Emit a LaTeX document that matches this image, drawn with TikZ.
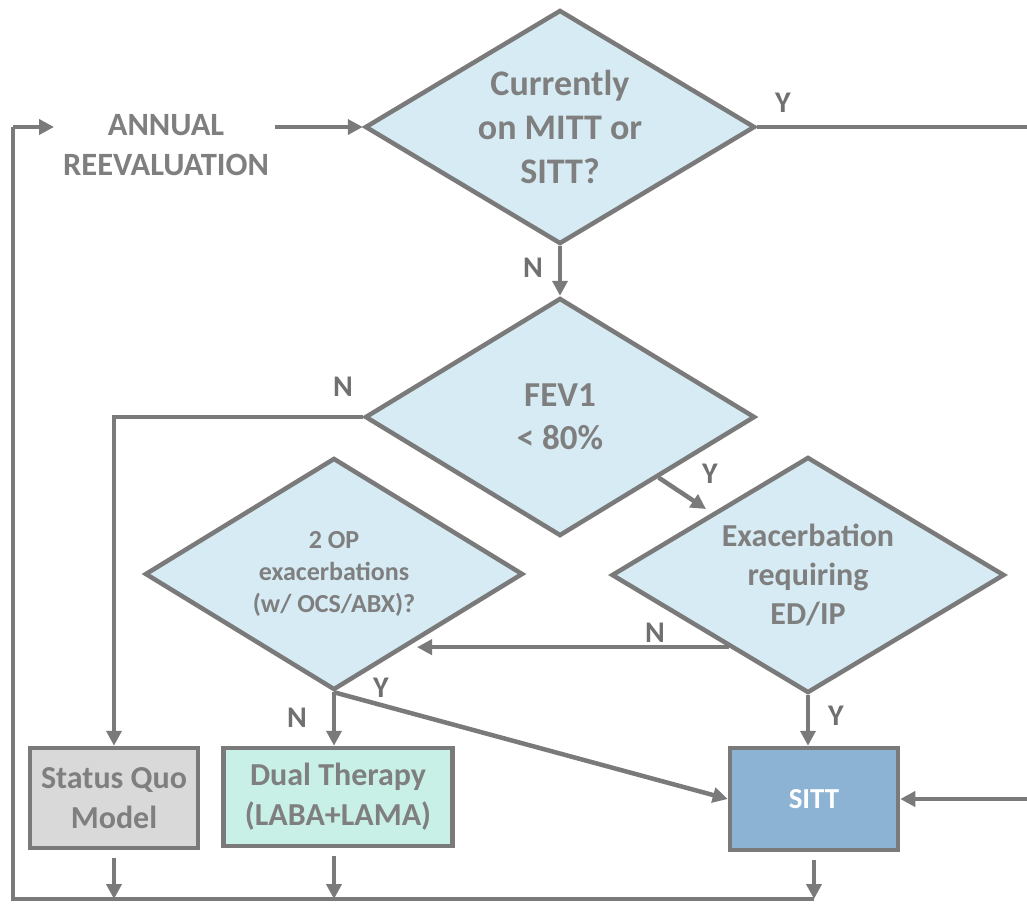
\documentclass[tikz,border=0pt]{standalone}
\usepackage{fontspec}
\setmainfont{Carlito}
\usetikzlibrary{shapes.geometric,arrows.meta,calc}
\definecolor{lg}{HTML}{7A7A7A}
\definecolor{tgray}{HTML}{7F7F7F}
\definecolor{labgray}{HTML}{707070}
\definecolor{dfill}{HTML}{D6EBF3}
\definecolor{sqfill}{HTML}{D9D9D9}
\definecolor{dualfill}{HTML}{C9F0E6}
\definecolor{sittfill}{HTML}{8CB3D4}
\begin{document}
\begin{tikzpicture}[x=1pt,y=-1pt,
  conn/.style={draw=lg, line width=4.5pt},
  arr/.style={conn, -{Triangle[length=15pt,width=15pt]}},
  dec/.style={diamond, draw=lg, line width=4.5pt, fill=dfill, inner sep=0pt,
    text=tgray, align=center},
  box/.style={rectangle, draw=lg, line width=4.5pt, inner sep=0pt, align=center,
    text=tgray, font=\fontsize{32}{40}\selectfont\bfseries},
  lab/.style={text=labgray, font=\fontsize{30}{34}\selectfont\bfseries, inner sep=0pt}]
\clip (0,0) rectangle (1027,903);
\fill[white] (0,0) rectangle (1027,903);

% nodes
\node[text=tgray, align=center, inner sep=6pt, font=\fontsize{32.5}{40}\selectfont\bfseries]
  (annual) at (166,145) {ANNUAL\\REEVALUATION};
\node[dec, aspect=1.67, minimum width=390pt, minimum height=234pt,
  font=\fontsize{36}{44}\selectfont\bfseries] (d1) at (560,127)
  {Currently\\on MITT or\\SITT?};
\node[dec, aspect=1.64, minimum width=390pt, minimum height=238pt,
  font=\fontsize{35}{43}\selectfont\bfseries] (d2) at (560,417)
  {FEV1\\< 80\%};
\node[dec, aspect=1.63, minimum width=378pt, minimum height=232pt,
  font=\fontsize{26}{32}\selectfont\bfseries] (d3) at (334,574)
  {2 OP\\exacerbations\\(w/ OCS/ABX)?};
\node[dec, aspect=1.665, minimum width=393pt, minimum height=236pt,
  font=\fontsize{32}{39}\selectfont\bfseries] (d4) at (808,575)
  {Exacerbation\\requiring\\ED/IP};
\node[box, fill=sqfill, minimum width=168pt, minimum height=100pt] (sq) at (114,798)
  {Status Quo\\Model};
\node[box, fill=dualfill, minimum width=229pt, minimum height=98pt] (dual) at (338,797)
  {Dual Therapy\\(LABA+LAMA)};
\node[box, fill=sittfill, minimum width=168pt, minimum height=102pt, text=white,
  font=\fontsize{29}{34}\selectfont\bfseries] (sitt) at (814,799) {SITT};

% helper coordinates
\coordinate (bl) at (13,899);
\coordinate (tl) at (13,127);
\coordinate (loopend) at (54,127);
\coordinate (rtop) at (1029,127);
\coordinate (rbot) at (1029,799);
\coordinate (ystart) at ($(d2.east)!0.5!(d2.south)$);
\coordinate (yend) at (706,509);
\coordinate (nstart) at ($(d4.west)!0.6!(d4.south)$);
\coordinate (nend) at (417,0);

% connectors
\draw[arr] (annual.east |- d1.west) -- (d1.west);
\draw[conn] (d1.east) -- (rtop) -- (rbot);
\draw[arr] (rbot) -- (sitt.east);
\draw[arr] (d1.south) -- (d2.north);
\draw[arr] (d2.west) -- (sq.north |- d2.west) -- (sq.north);
\draw[arr] (ystart) -- (yend);
\draw[arr] (nstart) -- (nstart -| nend);
\draw[arr] (d3.south) -- (d3.south |- dual.north);
\draw[arr] (d3.south) -- (sitt.west);
\draw[arr] (d4.south) -- (d4.south |- sitt.north);
\draw[arr, shorten <=8pt] (sq.south) -- (sq.south |- bl);
\draw[arr, shorten <=8pt] (d3.south |- dual.south) -- (d3.south |- bl);
\draw[arr, shorten <=8pt] (sitt.south) -- (sitt.south |- bl);
\draw[conn] (sitt.south |- bl) -- (bl) -- (tl);
\draw[arr] (tl) -- (loopend);

% labels
\node[lab] (y1) at (783,103) {Y};
\node[lab] (n1) at (533,268) {N};
\node[lab] (n2) at (343,387) {N};
\node[lab] (y2) at (710,474) {Y};
\node[lab] (n4) at (655,633) {N};
\node[lab] (y3) at (381,688) {Y};
\node[lab] (n3) at (297,718) {N};
\node[lab] (y4) at (836,716) {Y};
\end{tikzpicture}
\end{document}
